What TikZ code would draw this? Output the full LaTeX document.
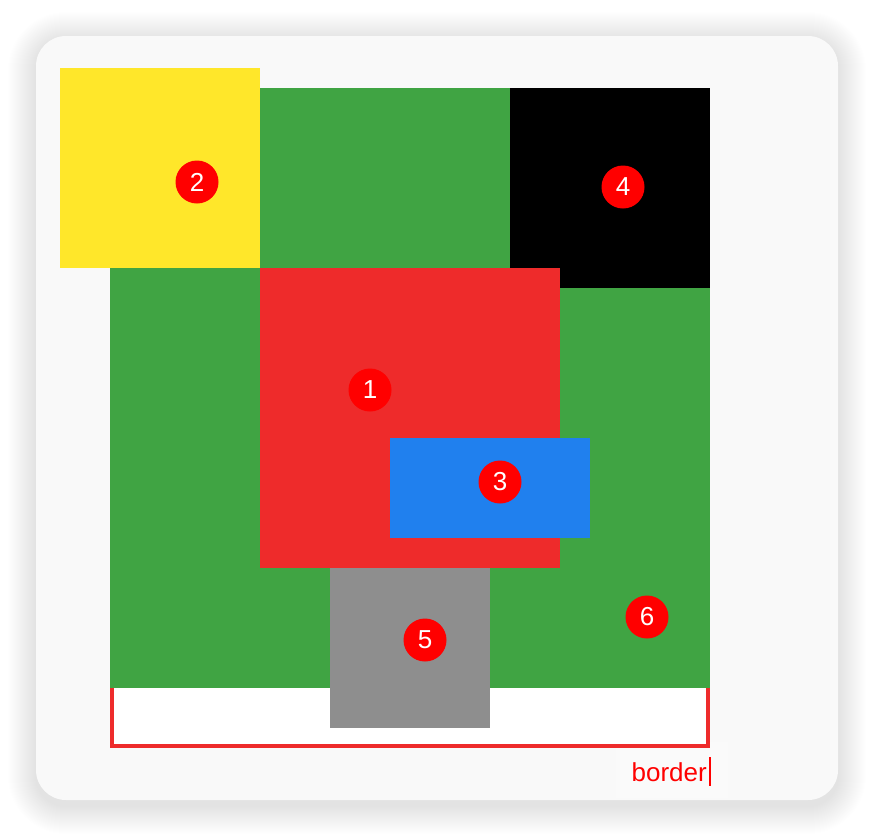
\documentclass[tikz,border=0pt]{standalone}
\usepackage{fontspec}
\setmainfont{Liberation Sans}
\definecolor{cardbg}{HTML}{F9F9F9}
\definecolor{mgreen}{HTML}{40A443}
\definecolor{myellow}{HTML}{FFE72A}
\definecolor{mred}{HTML}{EE2B2B}
\definecolor{mblue}{HTML}{2080EE}
\definecolor{mgray}{HTML}{8E8E8E}
\definecolor{badge}{HTML}{FF0000}
\tikzset{
  blk/.style={draw=none, inner sep=0pt, outer sep=0pt},
  numbadge/.style={circle, fill=badge, minimum size=43pt, inner sep=0pt, text=white, font=\fontsize{26}{26}\selectfont},
}
\begin{document}
\begin{tikzpicture}[x=1pt,y=-1pt]
\useasboundingbox (0,0) rectangle (874,836);
\fill[white] (0,0) rectangle (874,836);
% shadow
\foreach \i in {1,...,28}{
  \fill[black, opacity=0.0035, rounded corners={30+\i}] (36-\i,40-\i) rectangle (838+\i,806+\i);
}
% card
\fill[cardbg, rounded corners=30] (36,36) rectangle (838,800);
% label background
\fill[white, opacity=0.3] (616,742) rectangle (728,798);
% border box
\fill[white] (110,680) rectangle (710,748);
\draw[mred, line width=4pt] (112,680) -- (112,746) -- (708,746) -- (708,680);
% green
\fill[mgreen] (110,88) rectangle (710,688) node[blk] (green) {};
% shapes
\fill[myellow] (60,68) rectangle (260,268);
\fill[black] (510,88) rectangle (710,288);
\fill[mred] (260,268) rectangle (560,568);
\fill[mblue] (390,438) rectangle (590,538);
\fill[mgray] (330,568) rectangle (490,728);
% badges
\node[numbadge] (b1) at (370,390) {1};
\node[numbadge] (b2) at (197,182) {2};
\node[numbadge] (b3) at (500,482) {3};
\node[numbadge] (b4) at (623,187) {4};
\node[numbadge] (b5) at (425,640) {5};
\node[numbadge] (b6) at (647,617) {6};
% label
\node[anchor=base east, text=badge, font=\fontsize{26}{26}\selectfont, inner sep=0pt] (lbl) at (707,781) {border};
\fill[badge] (708.5,757) rectangle (710.5,786);
\end{tikzpicture}
\end{document}
